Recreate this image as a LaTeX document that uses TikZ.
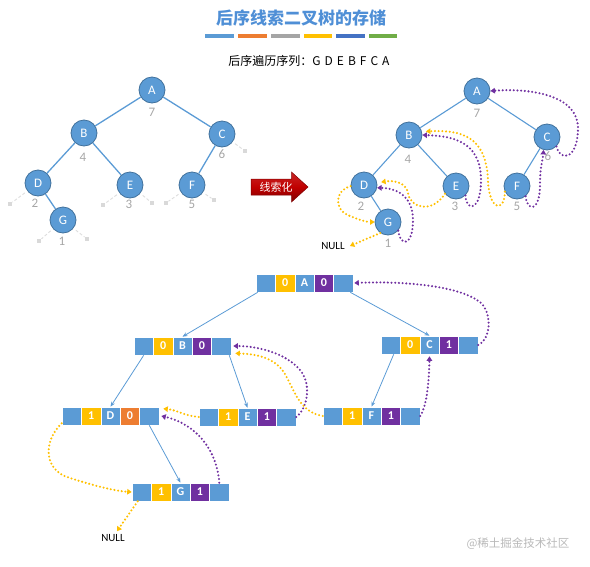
\documentclass[tikz,border=0pt]{standalone}
\usepackage{fontspec}
\setmainfont{Carlito}
\newfontfamily\cjk{Noto Sans CJK SC}
\usetikzlibrary{arrows.meta}
\definecolor{cblue}{HTML}{5B9BD5}
\definecolor{cbluedk}{HTML}{41719C}
\definecolor{cyellow}{HTML}{FFC000}
\definecolor{cpurple}{HTML}{7030A0}
\definecolor{corange}{HTML}{ED7D31}
\definecolor{cgray}{HTML}{A5A5A5}
\definecolor{cdblue}{HTML}{4472C4}
\definecolor{cgreen}{HTML}{70AD47}
\definecolor{ctitle}{HTML}{4F8FD6}
\definecolor{numgray}{HTML}{A6A6A6}
\definecolor{stubgray}{HTML}{DDDDDD}
\definecolor{cred}{HTML}{C00000}
\definecolor{cdred}{HTML}{800000}
\newcommand\myrecord[7]{%
  \node[cell,fill=cblue]   (#1-1) at ({#2+9.7},{#3+9}) {};
  \node[cell,fill=cyellow] (#1-2) at ({#2+29.1},{#3+9}) {#4};
  \node[cell,fill=cblue]   (#1-3) at ({#2+48.5},{#3+9}) {#5};
  \node[cell,fill=#7]      (#1-4) at ({#2+67.9},{#3+9}) {#6};
  \node[cell,fill=cblue]   (#1-5) at ({#2+87.3},{#3+9}) {};
}
\begin{document}
\begin{tikzpicture}[x=1pt,y=-1pt,
  tnode/.style={circle, minimum size=26pt, inner sep=0pt, fill=cblue, draw=cbluedk, line width=0.8pt, text=white, font=\fontsize{13}{13}\selectfont},
  numlbl/.style={text=numgray, inner sep=0pt, font=\fontsize{13}{13}\selectfont},
  tedge/.style={draw=cblue, line width=1.3pt},
  stub/.style={draw=stubgray, line width=0.9pt, densely dashed, shorten <=3pt},
  stubsq/.style={rectangle, fill=gray!30, minimum size=4.5pt, inner sep=0pt},
  ythread/.style={draw=cyellow, line width=2.3pt, line cap=round, dash pattern=on 0pt off 3.7pt, -{Triangle[length=4.5pt,width=5.5pt]}},
  pthread/.style={draw=cpurple, line width=2.3pt, line cap=round, dash pattern=on 0pt off 3.7pt, -{Triangle[length=4.5pt,width=5.5pt]}},
  cell/.style={rectangle, minimum width=19.4pt, minimum height=18pt, inner sep=0pt, draw=white, line width=0.6pt, text=white, font=\bfseries\fontsize{12}{12}\selectfont},
  link/.style={draw=cblue, line width=0.8pt, -{Stealth[length=5pt,width=4pt]}},
  nulllbl/.style={inner sep=0pt, font=\fontsize{11}{11}\selectfont}
]
\useasboundingbox (0,0) rectangle (590,566);

% title
\node[text=ctitle, font=\cjk\bfseries\fontsize{17}{17}\selectfont] (title) at (301,18) {后序线索二叉树的存储};
\fill[cblue]   (205,33.5) rectangle (233.5,37.5);
\fill[corange] (238,33.5) rectangle (266.5,37.5);
\fill[cgray]   (271,33.5) rectangle (299.5,37.5);
\fill[cyellow] (303.5,33.5) rectangle (332,37.5);
\fill[cdblue]  (336,33.5) rectangle (364.5,37.5);
\fill[cgreen]  (368.5,33.5) rectangle (397,37.5);
\node[font=\cjk\fontsize{12}{12}\selectfont] (seq) at (309,61) {后序遍历序列：G\,\,D\,\,E\,\,B\,\,F\,\,C\,\,A};

% left tree
\node[tnode] (lA) at (152,90) {A};
\node[tnode] (lB) at (84,133) {B};
\node[tnode] (lC) at (222,134) {C};
\node[tnode] (lD) at (38,183) {D};
\node[tnode] (lE) at (130,185) {E};
\node[tnode] (lF) at (192,185) {F};
\node[tnode] (lG) at (63,220) {G};
\draw[tedge] (lA) -- (lB);
\draw[tedge] (lA) -- (lC);
\draw[tedge] (lB) -- (lD);
\draw[tedge] (lB) -- (lE);
\draw[tedge] (lC) -- (lF);
\draw[tedge] (lD) -- (lG);
\node[numlbl] (ln7) at (152,112) {7};
\node[numlbl] (ln4) at (83,157) {4};
\node[numlbl] (ln6) at (222,154) {6};
\node[numlbl] (ln2) at (35,203) {2};
\node[numlbl] (ln3) at (129,204) {3};
\node[numlbl] (ln5) at (192,204) {5};
\node[numlbl] (ln1) at (62,241) {1};
\node[stubsq] (sD) at (10,204) {};
\node[stubsq] (sE1) at (103,205) {};
\node[stubsq] (sE2) at (152,203) {};
\node[stubsq] (sF1) at (166,203) {};
\node[stubsq] (sF2) at (214,200) {};
\node[stubsq] (sG1) at (39,241) {};
\node[stubsq] (sG2) at (87,239) {};
\node[stubsq] (sC) at (245,151) {};
\draw[stub] (lD) -- (sD);
\draw[stub] (lE) -- (sE1);
\draw[stub] (lE) -- (sE2);
\draw[stub] (lF) -- (sF1);
\draw[stub] (lF) -- (sF2);
\draw[stub] (lG) -- (sG1);
\draw[stub] (lG) -- (sG2);
\draw[stub] (lC) -- (sC);

% red arrow
\shade[top color=cred!85, bottom color=cdred, middle color=cred, draw=cdred, line width=0.5pt]
  (251,179) -- (291.5,179) -- (291.5,172) -- (308,187) -- (291.5,202) -- (291.5,195) -- (251,195) -- cycle;
\node[text=white, font=\cjk\fontsize{11}{11}\selectfont, inner sep=0pt] (thr) at (276,187) {线索化};

% right tree
\node[tnode] (rA) at (477,91) {A};
\node[tnode] (rB) at (409,135) {B};
\node[tnode] (rC) at (547,137) {C};
\node[tnode] (rD) at (364,185) {D};
\node[tnode] (rE) at (456,186) {E};
\node[tnode] (rF) at (517,186) {F};
\node[tnode] (rG) at (388,222) {G};
\draw[tedge, line width=1.1pt] (rA) -- (rB);
\draw[tedge, line width=1.1pt] (rA) -- (rC);
\draw[tedge, line width=1.1pt] (rB) -- (rD);
\draw[tedge, line width=1.1pt] (rB) -- (rE);
\draw[tedge, line width=1.1pt] (rC) -- (rF);
\draw[tedge, line width=1.1pt] (rD) -- (rG);
\node[numlbl] (rn7) at (477,113) {7};
\node[numlbl] (rn4) at (408,159) {4};
\node[numlbl] (rn6) at (548,156) {6};
\node[numlbl] (rn2) at (361,206) {2};
\node[numlbl] (rn3) at (455,206) {3};
\node[numlbl] (rn5) at (517,206) {5};
\node[numlbl] (rn1) at (388,243) {1};
\node[nulllbl] (rnull) at (333,246) {NULL};

\draw[pthread] (rC.-45) .. controls (560,162) and (578,160) .. (578,128) .. controls (578,95) and (530,88) .. (rA.east);
\draw[pthread] (rF.-50) .. controls (527,212) and (540,212) .. (540,185) .. controls (540,165) and (543,160) .. (rC.-105);
\draw[pthread] (rE.-45) .. controls (466,212) and (481,212) .. (481,180) .. controls (481,140) and (450,136) .. (rB.east);
\draw[ythread, shorten >=4pt] (rF.205) .. controls (505,212) and (489,212) .. (488,180) .. controls (486,135) and (460,130) .. (rB.15);
\draw[ythread, shorten >=4pt] (rE.215) .. controls (432,214) and (410,208) .. (408,193) .. controls (406,183) and (395,180) .. (rD.10);
\draw[pthread] (rG.-40) .. controls (400,247) and (413,247) .. (413,220) .. controls (413,195) and (395,188) .. (rD.-12);
\draw[ythread] (rD.185) .. controls (335,190) and (333,210) .. (350,216) .. controls (360,220) and (366,222) .. (rG.west);
\draw[ythread] (rG.235) -- ([xshift=5pt]rnull.east);

% records
\myrecord{recA}{256}{274}{0}{A}{0}{cpurple}
\myrecord{recB}{134}{337}{0}{B}{0}{cpurple}
\myrecord{recC}{381}{336}{0}{C}{1}{cpurple}
\myrecord{recD}{62}{407}{1}{D}{0}{corange}
\myrecord{recE}{199}{408}{1}{E}{1}{cpurple}
\myrecord{recF}{323}{407}{1}{F}{1}{cpurple}
\myrecord{recG}{132}{483}{1}{G}{1}{cpurple}

\draw[link] ([xshift=2pt]recA-1.south west) -- (recB-3.north);
\draw[link] ([xshift=-3pt]recA-5.south east) -- (recC-3.north);
\draw[link] (recB-1.south) -- (recD-3.north);
\draw[link] ([xshift=-2pt]recB-5.south east) -- (recE-3.north);
\draw[link] ([xshift=3pt]recC-1.south) -- (recF-3.north);
\draw[link] (recD-5.south) -- (recG-3.north);

\node[nulllbl] (bnull) at (113,538) {NULL};

\draw[pthread] (recC-5.east) .. controls (490,340) and (493,315) .. (481,303) .. controls (460,285) and (400,281) .. ([xshift=1pt]recA-5.east);
\draw[pthread] (recF-5.east) .. controls (427,405) and (429,382) .. ([yshift=-2pt]recC-3.south);
\draw[pthread] (recE-5.east) .. controls (306,410) and (313,386) .. (300,370) .. controls (285,352) and (255,346) .. ([xshift=2pt]recB-5.east);
\draw[ythread] (recF-1.west) .. controls (300,412) and (295,392) .. (285,374) .. controls (275,357) and (255,354) .. ([shift={(4pt,2pt)}]recB-5.south east);
\draw[ythread] (recE-1.west) .. controls (185,416) and (177,410) .. ([shift={(4pt,-2pt)}]recD-5.north east);
\draw[pthread] (recG-5.north) .. controls (217,450) and (196,424) .. ([xshift=2pt]recD-5.east);
\draw[ythread] ([yshift=2pt]recD-1.south west) .. controls (44,440) and (42,470) .. (70,478) .. controls (95,486) and (115,491) .. (recG-1.west);
\draw[ythread] ([xshift=-4pt]recG-1.south) -- ([xshift=4pt,yshift=3pt]bnull.north);

\node[text=gray!55, font=\cjk\fontsize{11.5}{11.5}\selectfont] (wm) at (518,544) {@稀土掘金技术社区};
\end{tikzpicture}
\end{document}
